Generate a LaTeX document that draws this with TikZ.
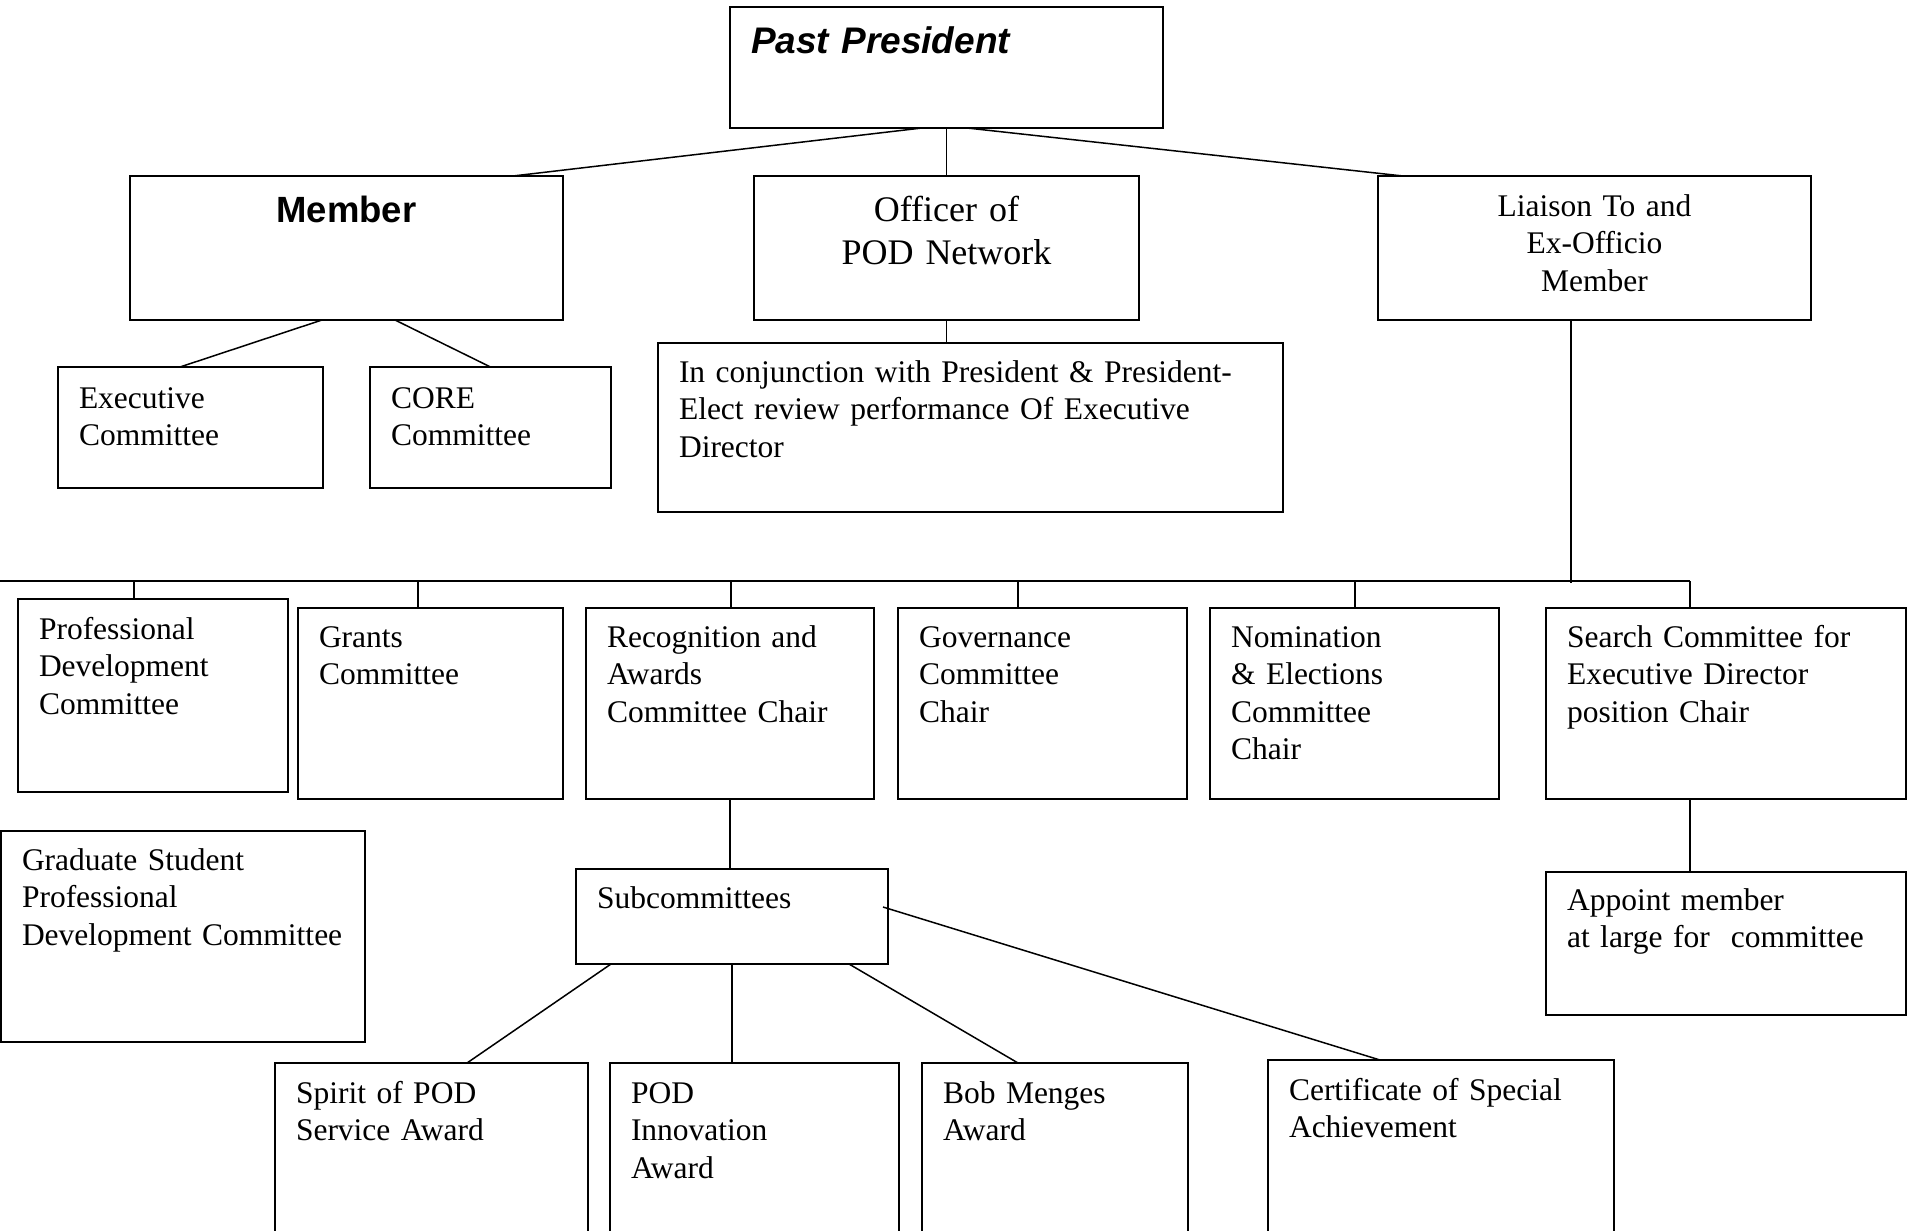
\documentclass[tikz,border=0pt]{standalone}
\usepackage{fontspec}
\setmainfont{Liberation Serif}
\setsansfont{Liberation Sans}
\usepackage{tikz}
\newcommand{\bodyfont}{\fontsize{31.5}{37.5}\selectfont}
\newcommand{\headfont}{\sffamily\bfseries\fontsize{36.5}{43}\selectfont}

\begin{document}
\begin{tikzpicture}[x=1pt, y=-1pt, line width=1.6pt,
  box/.style={draw, anchor=north west, outer sep=0pt, inner xsep=21pt, inner ysep=0pt,
    text height=39pt, align=left, font=\bodyfont},
  link/.style={line width=1.5pt}]
\useasboundingbox (0,0) rectangle (1907,1231);

% Past President and its three roles
\node[box, text width=391pt, text height=47pt, text depth=74pt, font=\sffamily\bfseries\itshape\fontsize{37}{43}\selectfont] (past) at (730,7) {Past President};
\node[box, text width=391pt, text height=46pt, text depth=98pt, align=center, font=\headfont] (member) at (130,176) {Member};
\node[box, text width=343pt, text height=45pt, text depth=99pt, align=center, font=\fontsize{36}{43.3}\selectfont] (officer) at (754,176) {Officer of\\POD Network};
\node[box, text width=391pt, text height=40pt, text depth=104pt, align=center] (liaison) at (1378,176) {Liaison To and\\Ex-Officio\\Member};
\draw[link] ([xshift=-24.5pt]past.south) -- ([xshift=166.5pt]member.north);
\draw[link] (past.south) -- (officer.north);
\draw[link] ([xshift=20.5pt]past.south) -- ([xshift=-191.5pt]liaison.north);

% Member
\node[box, text width=223pt, text height=41pt, text depth=80pt] (exec) at (58,367) {Executive\\Committee};
\node[box, text width=199pt, text height=41pt, text depth=80pt] (core) at (370,367) {CORE\\Committee};
\draw[link] ([xshift=-24.5pt]member.south) -- ([xshift=-10.5pt]exec.north);
\draw[link] ([xshift=48.5pt]member.south) -- (core.north);

% Officer
\node[box, text width=583pt, text depth=130pt] (conj) at (658,343) {In conjunction with President \& President-\\Elect review performance Of Executive\\Director};
\draw[link] (officer.south) -- (officer.south |- conj.north);

% Liaison: committees
\node[box, text width=228pt, text height=40pt, text depth=153pt] (pd) at (18,599) {Professional\\Development\\Committee};
\node[box, text width=223pt, text depth=152pt] (grants) at (298,608) {Grants\\Committee};
\node[box, text width=246pt, text depth=152pt] (recog) at (586,608) {Recognition and\\Awards\\Committee Chair};
\node[box, text width=247pt, text depth=152pt] (gov) at (898,608) {Governance\\Committee\\Chair};
\node[box, text width=247pt, text depth=152pt] (nom) at (1210,608) {Nomination\\\& Elections\\Committee\\Chair};
\node[box, text width=318pt, text depth=152pt] (search) at (1546,608) {Search Committee for\\Executive Director\\position Chair};
\coordinate (busW) at (0,581);
\coordinate (busE) at (1690,581);
\coordinate (liaisonfoot) at (1571,583);
\draw[link] (busW) -- (busE);
\draw[link] ([xshift=-23.5pt]liaison.south) -- (liaisonfoot);
\foreach \n/\x in {pd/134, grants/418, recog/731, gov/1018, nom/1355, search/1690}
  \draw[link] (\x,581) -- (\x,581 |- \n.north);

\node[box, text width=322pt, text depth=172pt] (grad) at (1,831) {Graduate Student\\Professional\\Development Committee};
\node[box, text width=318pt, text height=38pt, text depth=105pt] (appoint) at (1546,872) {Appoint member\\at large for\ \ committee};
\draw[link] (search.south -| 1690,0) -- (appoint.north -| 1690,0);

% Subcommittees and awards
\node[box, text width=270pt, text depth=56pt] (subc) at (576,869) {Subcommittees};
\draw[link] (recog.south) -- (recog.south |- subc.north);
\node[box, text width=271pt, text height=40pt, text depth=137pt] (spirit) at (275,1063) {Spirit of POD\\Service Award};
\node[box, text width=247pt, text height=40pt, text depth=137pt] (innov) at (610,1063) {POD\\Innovation\\Award};
\node[box, text width=224pt, text height=40pt, text depth=137pt] (bob) at (922,1063) {Bob Menges\\Award};
\node[box, text width=304pt, text height=40pt, text depth=140pt] (cert) at (1268,1060) {Certificate of Special\\Achievement};
\draw[link] ([xshift=-121pt]subc.south) -- ([xshift=35.5pt]spirit.north);
\draw[link] (subc.south) -- (subc.south |- innov.north);
\draw[link] ([xshift=117pt]subc.south) -- ([xshift=-37pt]bob.north);
\draw[link] ([xshift=-5pt,yshift=9.5pt]subc.east) -- ([xshift=-61pt]cert.north);
\end{tikzpicture}
\end{document}
